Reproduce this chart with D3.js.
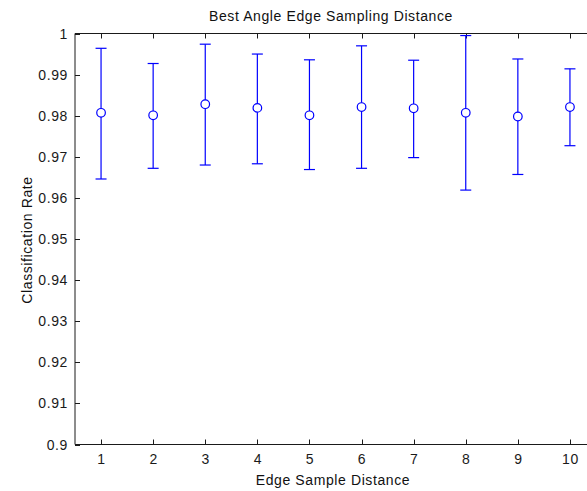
<!DOCTYPE html>
<html>
<head>
<meta charset="utf-8">
<script src="https://cdn.jsdelivr.net/npm/d3@7"></script>
<style>
  body { margin: 0; background: #fff; }
  svg { display: block; font-family: "Liberation Sans", Arial, sans-serif; }
  text { letter-spacing: 0.6px; }
</style>
</head>
<body>
<div id="chart"></div>
<script>
// sample distance on x, mean classification rate and error bar ends
const distances = [1, 2, 3, 4, 5, 6, 7, 8, 9, 10]
const means = [0.9807, 0.9801, 0.9828, 0.9819, 0.9801, 0.9821, 0.9818, 0.9807, 0.9798, 0.9821]
const lower = [0.9646, 0.9672, 0.9680, 0.9683, 0.9669, 0.9672, 0.9698, 0.9619, 0.9657, 0.9727]
const upper = [0.9964, 0.9927, 0.9974, 0.9950, 0.9936, 0.9970, 0.9935, 0.9995, 0.9938, 0.9914]
const yTicks = [0.9, 0.91, 0.92, 0.93, 0.94, 0.95, 0.96, 0.97, 0.98, 0.99, 1]

const width = 587
const height = 491
const pLeft = 75, pRight = 596, pTop = 33.5, pBottom = 444.5

const svg = d3.select("#chart")
    .append("svg")
    .attr("width", width)
    .attr("height", height)

const x = d3.scaleLinear().domain([0.5, 10.5]).range([pLeft, pRight])
const y = d3.scaleLinear().domain([0.9, 1]).range([pBottom, pTop])

const axisColor = "#1a1a1a"

// box lines (bottom, top, left)
svg.append("path")
    .attr("d", `M${pLeft},${pTop}H${pRight}M${pLeft},${pBottom}H${pRight}M${pLeft},${pTop}V${pBottom}`)
    .attr("stroke", axisColor)
    .attr("fill", "none")
    .attr("stroke-width", 1)

// x ticks, bottom and top, pointing inward
const xt = svg.append("g")
xt.selectAll("line.b").data(distances).join("line")
    .attr("class", "b")
    .attr("x1", d => Math.round(x(d)) + 0.5).attr("x2", d => Math.round(x(d)) + 0.5)
    .attr("y1", pBottom).attr("y2", pBottom - 5)
    .attr("stroke", axisColor)
xt.selectAll("line.t").data(distances).join("line")
    .attr("class", "t")
    .attr("x1", d => Math.round(x(d)) + 0.5).attr("x2", d => Math.round(x(d)) + 0.5)
    .attr("y1", pTop).attr("y2", pTop + 5)
    .attr("stroke", axisColor)
xt.selectAll("text").data(distances).join("text")
    .attr("x", d => x(d) + 0.5)
    .attr("y", pBottom + 19.5)
    .attr("text-anchor", "middle")
    .style("font-size", "14px")
    .style("fill", axisColor)
    .text(d => d)

// y ticks
const yt = svg.append("g")
yt.selectAll("line").data(yTicks).join("line")
    .attr("x1", pLeft).attr("x2", pLeft + 5)
    .attr("y1", d => Math.round(y(d)) + 0.5).attr("y2", d => Math.round(y(d)) + 0.5)
    .attr("stroke", axisColor)
yt.selectAll("text").data(yTicks).join("text")
    .attr("x", pLeft - 7)
    .attr("y", d => y(d) + 5)
    .attr("text-anchor", "end")
    .style("font-size", "14px")
    .style("fill", axisColor)
    .text(d => +d.toFixed(2))

// error bars
const blue = "#0000ff"
const bars = svg.append("g")
    .selectAll("g")
    .data(distances.map((d, i) => ({ d, m: means[i], lo: lower[i], hi: upper[i] })))
    .join("g")
    .attr("stroke", blue)
    .attr("fill", "none")
    .attr("stroke-width", 1.2)

bars.append("line")
    .attr("x1", p => x(p.d)).attr("x2", p => x(p.d))
    .attr("y1", p => y(p.lo)).attr("y2", p => y(p.hi))
bars.append("line")
    .attr("x1", p => x(p.d) - 5.5).attr("x2", p => x(p.d) + 5.5)
    .attr("y1", p => y(p.hi)).attr("y2", p => y(p.hi))
bars.append("line")
    .attr("x1", p => x(p.d) - 5.5).attr("x2", p => x(p.d) + 5.5)
    .attr("y1", p => y(p.lo)).attr("y2", p => y(p.lo))
bars.append("circle")
    .attr("cx", p => x(p.d))
    .attr("cy", p => y(p.m))
    .attr("r", 4.3)
    .attr("fill", "#fff")

// title and axis labels
svg.append("text")
    .attr("x", 331)
    .attr("y", 21)
    .attr("text-anchor", "middle")
    .style("font-size", "14px")
    .style("fill", "#111")
    .text("Best Angle Edge Sampling Distance")

svg.append("text")
    .attr("x", 333)
    .attr("y", 484.5)
    .attr("text-anchor", "middle")
    .style("font-size", "14px")
    .style("fill", "#111")
    .text("Edge Sample Distance")

svg.append("text")
    .attr("transform", "translate(31.5,240) rotate(-90)")
    .attr("text-anchor", "middle")
    .style("font-size", "14px")
    .style("fill", "#111")
    .text("Classification Rate")
</script>
</body>
</html>
